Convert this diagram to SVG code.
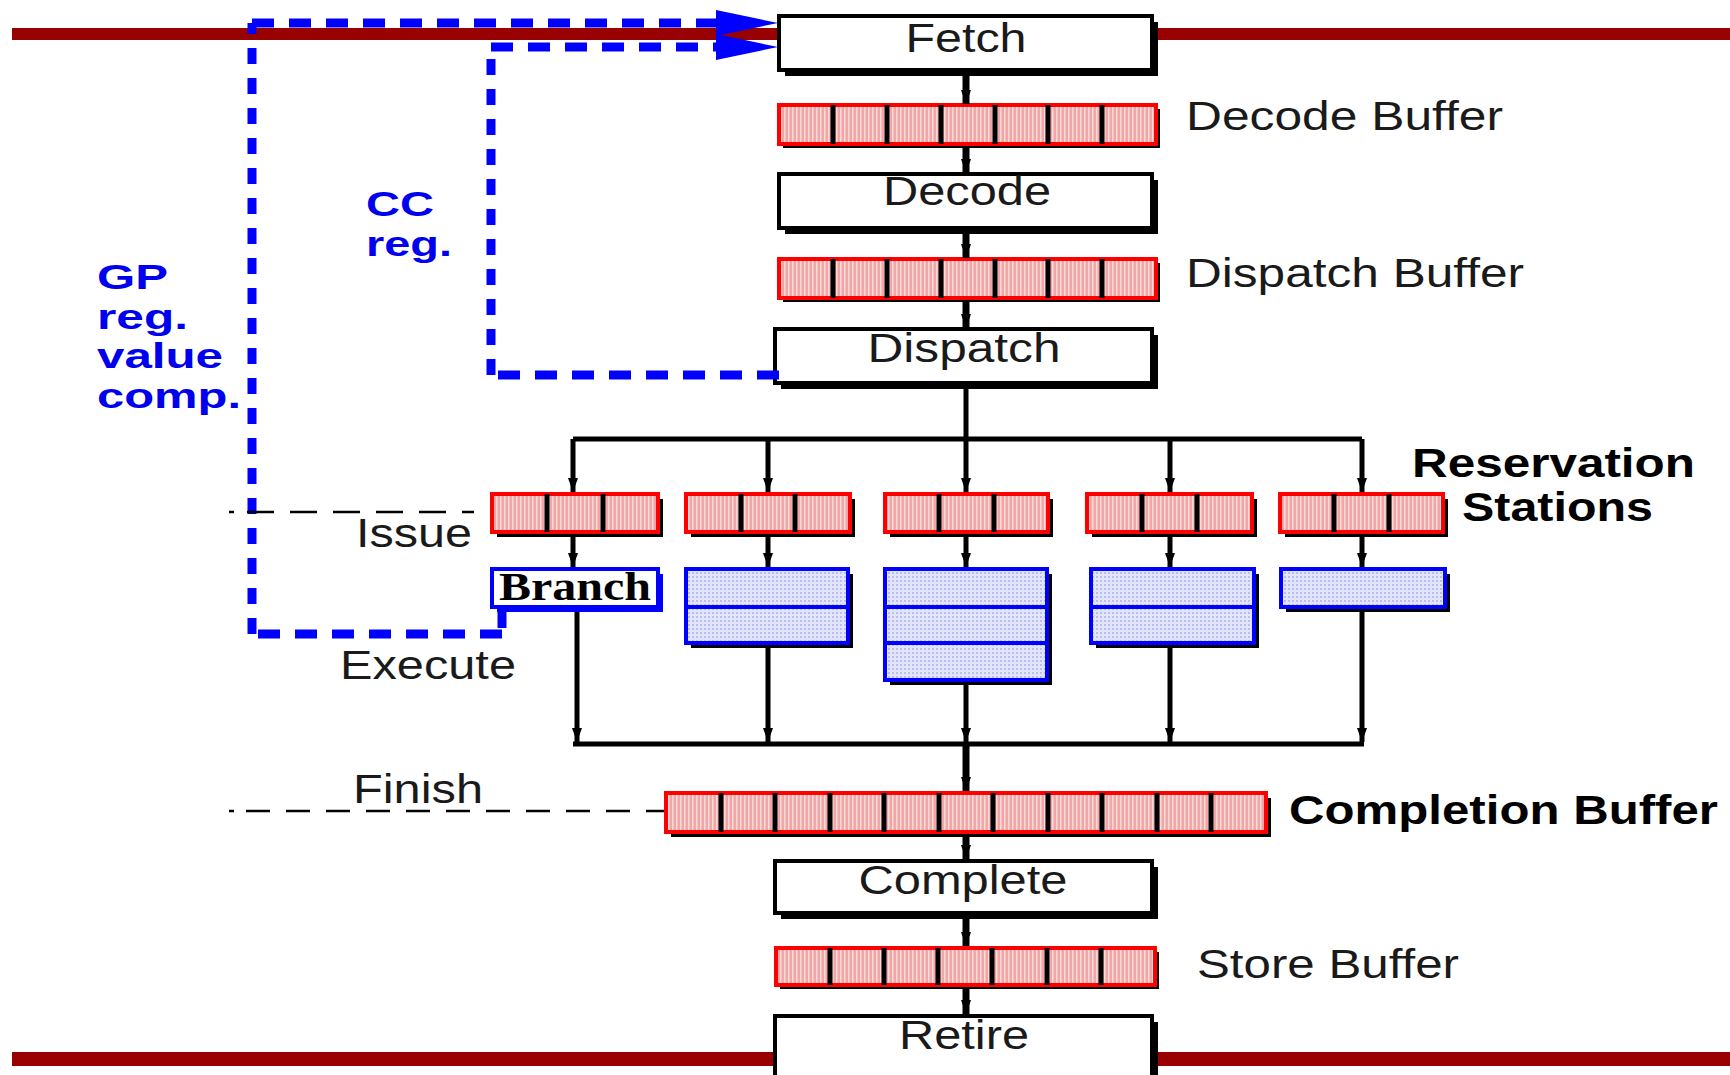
<svg xmlns="http://www.w3.org/2000/svg" width="1730" height="1075" viewBox="0 0 1730 1075">
<defs>
<pattern id="pink" width="4" height="4" patternUnits="userSpaceOnUse">
<rect width="4" height="4" fill="#f3a6a6"/>
<rect x="0" y="0" width="1.5" height="4" fill="#fcdada"/>
</pattern>
<pattern id="lav" width="4" height="4" patternUnits="userSpaceOnUse">
<rect width="4" height="4" fill="#e2e5fb"/>
<rect x="0" y="0" width="2" height="2" fill="#b9c0ef"/>
</pattern>
<marker id="ah" markerUnits="userSpaceOnUse" markerWidth="16" markerHeight="12" refX="14" refY="5" orient="auto">
<path d="M0,0 L14,5 L0,10 z" fill="#000"/>
</marker>
<style>
.bar{fill:#990000}
.sh{fill:#000}
.box{fill:#fff;stroke:#000;stroke-width:4}
.buf{fill:url(#pink);stroke:#ff0000;stroke-width:4}
.div{stroke:#000;stroke-width:5}
.unit{fill:url(#lav);stroke:#0000ff;stroke-width:4}
.udiv{stroke:#0000ff;stroke-width:4}
.t{font-family:"Liberation Sans",Arial,sans-serif;font-size:41px;fill:#1a1a1a}
.b{font-weight:bold;fill:#000}
.blue{font-family:"Liberation Sans",Arial,sans-serif;font-size:35px;font-weight:bold;fill:#0000ee}
.ser{font-family:"Liberation Serif","Times New Roman",serif;font-size:40px;font-weight:bold;fill:#000}
.c{fill:none;stroke:#000;stroke-width:5}
.cs{fill:none;stroke:#000;stroke-width:7}
.bh{fill:none;stroke:#0000ff;stroke-width:9;stroke-dasharray:22 15}
.bv{fill:none;stroke:#0000ff;stroke-width:9;stroke-dasharray:16 14}
.kd{fill:none;stroke:#000;stroke-width:2.5}
</style>
</defs>
<rect width="1730" height="1075" fill="#fff"/>
<g id="rules">
<rect class="bar" x="12" y="28" width="1718" height="12"/>
<rect class="bar" x="12" y="1052" width="1718" height="14"/>
</g>
<g id="fetch">
<rect class="sh" x="785" y="22" width="373" height="54"/>
<rect class="box" x="779" y="16" width="373" height="54"/>
<text class="t" x="966" y="52" text-anchor="middle" textLength="121" lengthAdjust="spacingAndGlyphs">Fetch</text>
</g>
<g id="decode-buffer">
<rect class="sh" x="783" y="109" width="377" height="39"/>
<rect class="buf" x="779" y="105" width="377" height="39"/>
<path class="div" d="M833,105V144M887,105V144M941,105V144M995,105V144M1048,105V144M1102,105V144"/>
<text class="t" x="1186" y="130" textLength="317" lengthAdjust="spacingAndGlyphs">Decode Buffer</text>
</g>
<g id="decode">
<rect class="sh" x="785" y="180" width="373" height="54"/>
<rect class="box" x="779" y="174" width="373" height="54"/>
<text class="t" x="967" y="205" text-anchor="middle" textLength="168" lengthAdjust="spacingAndGlyphs">Decode</text>
</g>
<g id="dispatch-buffer">
<rect class="sh" x="783" y="263" width="377" height="39"/>
<rect class="buf" x="779" y="259" width="377" height="39"/>
<path class="div" d="M833,259V298M887,259V298M941,259V298M995,259V298M1048,259V298M1102,259V298"/>
<text class="t" x="1186" y="287" textLength="338" lengthAdjust="spacingAndGlyphs">Dispatch Buffer</text>
</g>
<g id="dispatch">
<rect class="sh" x="781" y="335" width="377" height="54"/>
<rect class="box" x="775" y="329" width="377" height="54"/>
<text class="t" x="964" y="362" text-anchor="middle" textLength="193" lengthAdjust="spacingAndGlyphs">Dispatch</text>
</g>
<g id="rs1">
<rect class="sh" x="497" y="499" width="166" height="38"/>
<rect class="buf" x="492" y="494" width="166" height="38"/>
<path class="div" d="M547,494V532M603,494V532"/>
</g>
<g id="rs2">
<rect class="sh" x="691" y="499" width="164" height="38"/>
<rect class="buf" x="686" y="494" width="164" height="38"/>
<path class="div" d="M741,494V532M795,494V532"/>
</g>
<g id="rs3">
<rect class="sh" x="890" y="499" width="163" height="38"/>
<rect class="buf" x="885" y="494" width="163" height="38"/>
<path class="div" d="M939,494V532M994,494V532"/>
</g>
<g id="rs4">
<rect class="sh" x="1092" y="499" width="165" height="38"/>
<rect class="buf" x="1087" y="494" width="165" height="38"/>
<path class="div" d="M1142,494V532M1197,494V532"/>
</g>
<g id="rs5">
<rect class="sh" x="1285" y="499" width="163" height="38"/>
<rect class="buf" x="1280" y="494" width="163" height="38"/>
<path class="div" d="M1334,494V532M1389,494V532"/>
<text class="t b" x="1412" y="477" textLength="283" lengthAdjust="spacingAndGlyphs">Reservation</text>
<text class="t b" x="1462" y="521" textLength="191" lengthAdjust="spacingAndGlyphs">Stations</text>
</g>
<g id="branch">
<rect x="497" y="574" width="166" height="38" fill="#0000ff"/>
<rect x="492" y="569" width="166" height="38" fill="#fff" stroke="#0000ff" stroke-width="4"/>
<text class="ser" x="499" y="600" textLength="152" lengthAdjust="spacingAndGlyphs">Branch</text>
</g>
<g id="unit2">
<rect class="sh" x="691" y="574" width="162" height="74"/>
<rect class="unit" x="686" y="569" width="162" height="74"/>
<path class="udiv" d="M686,607H848"/>
</g>
<g id="unit3">
<rect class="sh" x="890" y="574" width="162" height="111"/>
<rect class="unit" x="885" y="569" width="162" height="111"/>
<path class="udiv" d="M885,607H1047M885,643H1047"/>
</g>
<g id="unit4">
<rect class="sh" x="1096" y="574" width="163" height="74"/>
<rect class="unit" x="1091" y="569" width="163" height="74"/>
<path class="udiv" d="M1091,607H1254"/>
</g>
<g id="unit5">
<rect class="sh" x="1286" y="574" width="164" height="38"/>
<rect class="unit" x="1281" y="569" width="164" height="38"/>
</g>
<g id="completion-buffer">
<rect class="sh" x="671" y="798" width="600" height="39"/>
<rect class="buf" x="666" y="793" width="600" height="39"/>
<path class="div" d="M721,793V832M775,793V832M830,793V832M884,793V832M939,793V832M993,793V832M1048,793V832M1102,793V832M1157,793V832M1211,793V832"/>
<text class="t b" x="1289" y="824" textLength="429" lengthAdjust="spacingAndGlyphs">Completion Buffer</text>
</g>
<g id="complete">
<rect class="sh" x="781" y="867" width="377" height="52"/>
<rect class="box" x="775" y="861" width="377" height="52"/>
<text class="t" x="963" y="894" text-anchor="middle" textLength="209" lengthAdjust="spacingAndGlyphs">Complete</text>
</g>
<g id="store-buffer">
<rect class="sh" x="780" y="952" width="379" height="37"/>
<rect class="buf" x="776" y="948" width="379" height="37"/>
<path class="div" d="M830,948V985M884,948V985M938,948V985M992,948V985M1047,948V985M1101,948V985"/>
<text class="t" x="1197" y="978" textLength="262" lengthAdjust="spacingAndGlyphs">Store Buffer</text>
</g>
<g id="retire">
<rect class="sh" x="781" y="1022" width="377" height="80"/>
<rect class="box" x="775" y="1016" width="377" height="80"/>
<text class="t" x="964" y="1049" text-anchor="middle" textLength="130" lengthAdjust="spacingAndGlyphs">Retire</text>
</g>
<g id="stage-labels">
<text class="t" x="356" y="547" textLength="116" lengthAdjust="spacingAndGlyphs">Issue</text>
<text class="t" x="340" y="679" textLength="176" lengthAdjust="spacingAndGlyphs">Execute</text>
<text class="t" x="353" y="803" textLength="130" lengthAdjust="spacingAndGlyphs">Finish</text>
<text class="blue" x="366" y="216" textLength="68" lengthAdjust="spacingAndGlyphs">CC</text>
<text class="blue" x="366" y="256" textLength="86" lengthAdjust="spacingAndGlyphs">reg.</text>
<text class="blue" x="97" y="289" textLength="71" lengthAdjust="spacingAndGlyphs">GP</text>
<text class="blue" x="97" y="329" textLength="91" lengthAdjust="spacingAndGlyphs">reg.</text>
<text class="blue" x="97" y="368" textLength="126" lengthAdjust="spacingAndGlyphs">value</text>
<text class="blue" x="97" y="408" textLength="144" lengthAdjust="spacingAndGlyphs">comp.</text>
</g>
<g id="connectors">
<path class="cs" d="M966,76V104" marker-end="url(#ah)"/>
<path class="cs" d="M966,148V173" marker-end="url(#ah)"/>
<path class="cs" d="M966,234V258" marker-end="url(#ah)"/>
<path class="cs" d="M966,302V328" marker-end="url(#ah)"/>
<path class="c" d="M966,389V439"/>
<path class="c" d="M573,439H1362"/>
<path class="c" d="M573,439V492" marker-end="url(#ah)"/>
<path class="c" d="M768,439V492" marker-end="url(#ah)"/>
<path class="c" d="M966,439V492" marker-end="url(#ah)"/>
<path class="c" d="M1170,439V492" marker-end="url(#ah)"/>
<path class="c" d="M1362,439V492" marker-end="url(#ah)"/>
<path class="c" d="M573,537V567" marker-end="url(#ah)"/>
<path class="c" d="M768,537V567" marker-end="url(#ah)"/>
<path class="c" d="M966,537V567" marker-end="url(#ah)"/>
<path class="c" d="M1170,537V567" marker-end="url(#ah)"/>
<path class="c" d="M1362,537V567" marker-end="url(#ah)"/>
<path class="c" d="M577,612V742" marker-end="url(#ah)"/>
<path class="c" d="M768,648V742" marker-end="url(#ah)"/>
<path class="c" d="M966,685V742" marker-end="url(#ah)"/>
<path class="c" d="M1170,648V742" marker-end="url(#ah)"/>
<path class="c" d="M1362,612V742" marker-end="url(#ah)"/>
<path class="c" d="M573,744H1364"/>
<path class="cs" d="M966,744V791" marker-end="url(#ah)"/>
<path class="cs" d="M966,837V859" marker-end="url(#ah)"/>
<path class="cs" d="M966,919V946" marker-end="url(#ah)"/>
<path class="cs" d="M966,989V1014" marker-end="url(#ah)"/>
<path class="bv" d="M502,612V634"/>
<path class="bh" d="M502,634H252"/>
<path class="bv" d="M252,634V23"/>
<path class="bh" d="M252,23H718"/>
<path class="bh" d="M779,375H491"/>
<path class="bv" d="M491,375V47"/>
<path class="bh" d="M491,47H718"/>
<polygon points="716,10 778,23 716,36" fill="#0000ff"/>
<polygon points="716,34 778,47 716,60" fill="#0000ff"/>
<path class="kd" d="M229,512H234"/>
<path class="kd" d="M247,512H474" stroke-dasharray="27 16"/>
<path class="kd" d="M229,811H234"/>
<path class="kd" d="M246,811H664" stroke-dasharray="24 16"/>
</g>
</svg>
